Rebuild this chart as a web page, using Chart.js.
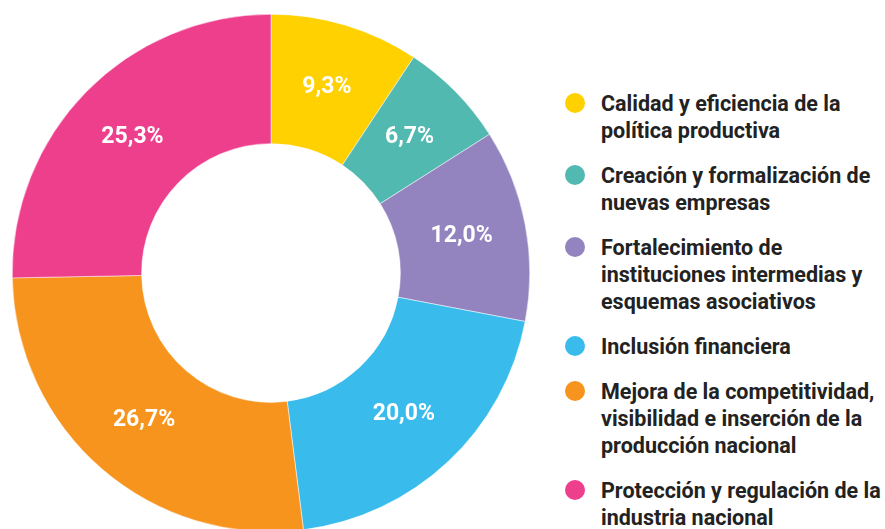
<!DOCTYPE html>
<html>
<head>
<meta charset="utf-8">
<script src="https://cdn.jsdelivr.net/npm/chart.js@4"></script>
<style>
  html, body { margin: 0; padding: 0; background: #fff; overflow: hidden; width: 885px; height: 529px; }
  #chartBox { position: absolute; left: 12px; top: 14px; width: 518px; height: 518px; }
  #legend { position: absolute; left: 565px; top: 90px; font-family: Roboto, sans-serif; font-weight: 700; font-size: 21.5px; color: #222; white-space: nowrap; }
  .item { position: relative; padding-left: 36px; line-height: 27px; margin-bottom: 18px; }
  .dot { position: absolute; left: 0; top: 3px; width: 20px; height: 20px; border-radius: 50%; }
</style>
</head>
<body>
<div id="chartBox"><canvas id="donut"></canvas></div>
<div id="legend"></div>
<script>
const categories = [
  'Calidad y eficiencia de la\npolítica productiva',
  'Creación y formalización de\nnuevas empresas',
  'Fortalecimiento de\ninstituciones intermedias y\nesquemas asociativos',
  'Inclusión financiera',
  'Mejora de la competitividad,\nvisibilidad e inserción de la\nproducción nacional',
  'Protección y regulación de la\nindustria nacional'
];
const shares = [9.3, 6.7, 12.0, 20.0, 26.7, 25.3];
const colors = ['#FFD100', '#52B9B1', '#9384BF', '#39BCEC', '#F7941D', '#EE3F8D'];

// white percentage labels in the middle of each ring segment
const sliceLabels = {
  id: 'sliceLabels',
  afterDatasetsDraw(chart) {
    const ctx = chart.ctx;
    const meta = chart.getDatasetMeta(0);
    ctx.save();
    ctx.fillStyle = '#fff';
    ctx.font = '700 23px Roboto';
    ctx.textAlign = 'center';
    ctx.textBaseline = 'middle';
    meta.data.forEach((arc, i) => {
      const p = arc.tooltipPosition();
      ctx.fillText(shares[i].toFixed(1).replace('.', ',') + '%', p.x, p.y);
    });
    ctx.restore();
  }
};

new Chart(document.getElementById('donut'), {
  type: 'doughnut',
  data: {
    labels: categories,
    datasets: [{
      data: shares,
      backgroundColor: colors,
      borderColor: '#fff',
      borderWidth: 0.5
    }]
  },
  options: {
    responsive: true,
    maintainAspectRatio: false,
    animation: false,
    cutout: '50%',
    layout: { padding: 0 },
    plugins: {
      legend: { display: false },
      tooltip: { enabled: false }
    }
  },
  plugins: [sliceLabels]
});

const legend = document.getElementById('legend');
categories.forEach((name, i) => {
  const div = document.createElement('div');
  div.className = 'item';
  const dot = document.createElement('span');
  dot.className = 'dot';
  dot.style.background = colors[i];
  div.appendChild(dot);
  name.split('\n').forEach((line, j) => {
    if (j) div.appendChild(document.createElement('br'));
    div.appendChild(document.createTextNode(line));
  });
  legend.appendChild(div);
});
</script>
</body>
</html>
